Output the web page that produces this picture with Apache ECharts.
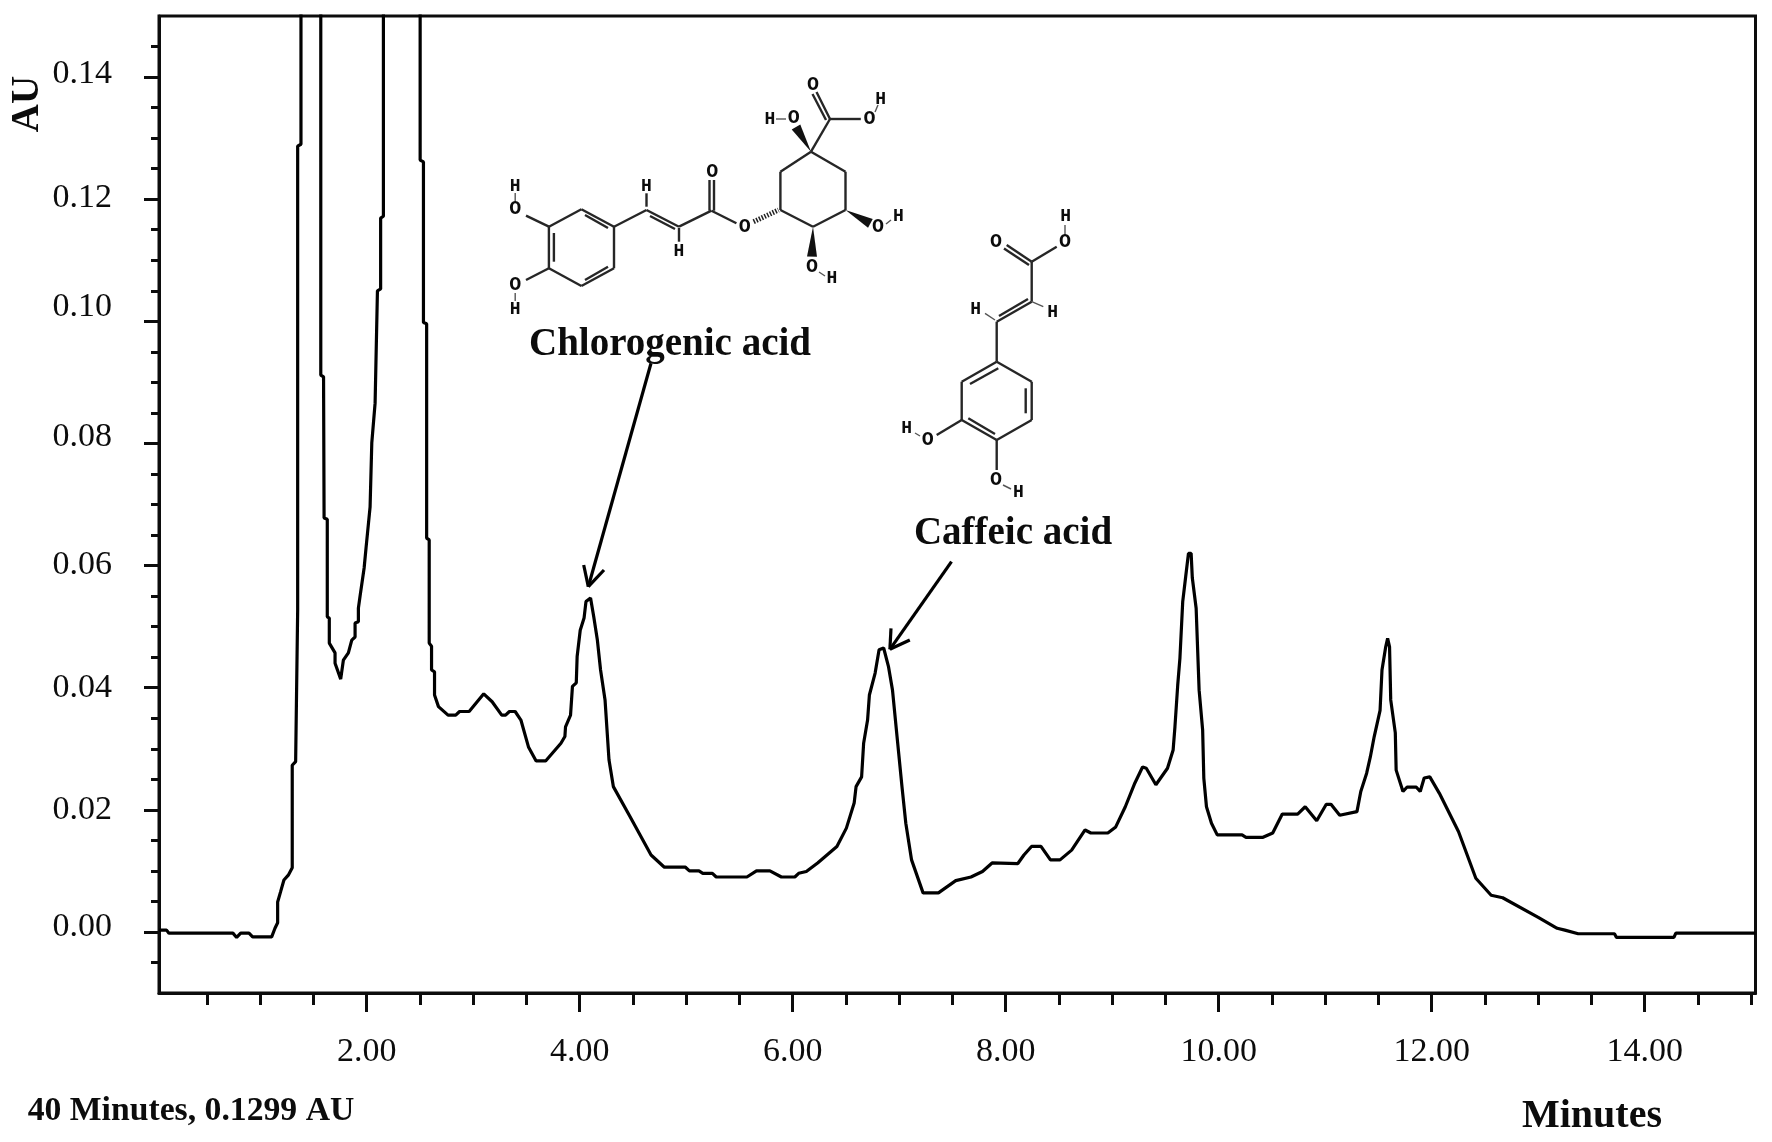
<!DOCTYPE html>
<html>
<head>
<meta charset="utf-8">
<title>Chromatogram</title>
<script src="https://cdn.jsdelivr.net/npm/echarts@6/dist/echarts.min.js"></script>
<style>
  html, body { margin: 0; padding: 0; background: #fff; }
  #chart { width: 1772px; height: 1142px; }
</style>
</head>
<body>
<div id="chart"></div>
<script>
// trace: retention time (min) and absorbance (AU)
// the two big peaks run off the top of the plot, so their tips are just set above the axis max
const times = [
  0.05, 0.121, 0.143, 0.744, 0.779, 0.817, 0.895, 0.929, 1.108, 1.139, 1.164, 1.164, 1.192, 1.223, 1.264, 1.301, 1.301, 1.333, 1.352, 1.352, 1.383, 1.383,
  1.569, 1.569, 1.595, 1.600, 1.630, 1.630, 1.649, 1.649, 1.703, 1.703, 1.756, 1.781, 1.828, 1.860, 1.891, 1.891, 1.922, 1.922, 1.938, 1.976, 1.994, 2.032, 2.048, 2.079, 2.101, 2.131, 2.131, 2.157, 2.157,
  2.502, 2.502, 2.533, 2.533, 2.563, 2.563, 2.587, 2.587, 2.609, 2.609, 2.637, 2.637, 2.674, 2.764, 2.836, 2.872, 2.962, 3.099, 3.178, 3.268, 3.304, 3.340, 3.394, 3.448, 3.519, 3.591, 3.680, 3.824, 3.861, 3.867, 3.914, 3.932, 3.968, 3.976,
  4.005, 4.041, 4.059, 4.102, 4.132, 4.166, 4.196, 4.238, 4.275, 4.316, 4.472, 4.670, 4.795, 4.993, 5.030, 5.120, 5.156, 5.246, 5.282, 5.570, 5.660, 5.786, 5.894, 6.020, 6.056, 6.128, 6.234, 6.415, 6.504, 6.577, 6.595, 6.647, 6.666, 6.703, 6.720, 6.774, 6.811, 6.854, 6.900, 6.937, 6.983,
  7.026, 7.062, 7.116, 7.224, 7.368, 7.531, 7.674, 7.782, 7.872, 8.114, 8.171, 8.242, 8.331, 8.420, 8.510, 8.619, 8.745, 8.799, 8.959, 9.033, 9.123, 9.213, 9.285, 9.320, 9.410, 9.519, 9.572, 9.589, 9.615, 9.636, 9.662, 9.690, 9.716, 9.741, 9.752, 9.788, 9.816, 9.849, 9.860, 9.885, 9.932, 9.986,
  10.219, 10.256, 10.416, 10.507, 10.597, 10.741, 10.812, 10.920, 11.010, 11.054, 11.136, 11.298, 11.334, 11.389, 11.424, 11.460, 11.515, 11.533, 11.568, 11.586, 11.604, 11.615, 11.658, 11.666, 11.730, 11.767, 11.856, 11.892, 11.929, 11.982,
  12.072, 12.252, 12.414, 12.558, 12.666, 13.000, 13.178, 13.250, 13.375, 13.716, 13.735, 14.274, 14.292, 15.04
]
const absorbance = [
  0.0003, 0.0003, -0.0002, -0.0002, -0.0009, -0.0002, -0.0002, -0.0008, -0.0008, 0.0006, 0.0015, 0.0049, 0.0066, 0.0085, 0.0093, 0.0105, 0.0273, 0.0279, 0.0527, 0.1287, 0.1290, 0.2,
  0.2, 0.0912, 0.0909, 0.0678, 0.0676, 0.0516, 0.0514, 0.0473, 0.0457, 0.0440, 0.0414, 0.0445, 0.0457, 0.0478, 0.0483, 0.0506, 0.0508, 0.0530, 0.0550, 0.0596, 0.0629, 0.0696, 0.0801, 0.0866, 0.1050, 0.1053, 0.1169, 0.1172, 0.2,
  0.2, 0.1264, 0.1261, 0.0998, 0.0996, 0.0645, 0.0642, 0.0473, 0.0468, 0.0429, 0.0426, 0.0388, 0.0369, 0.0355, 0.0355, 0.0361, 0.0361, 0.0390, 0.0377, 0.0355, 0.0355, 0.0361, 0.0361, 0.0347, 0.0303, 0.0280, 0.0280, 0.0309, 0.0320, 0.0336, 0.0355, 0.0402, 0.0408, 0.0451,
  0.0494, 0.0514, 0.0541, 0.0547, 0.0516, 0.0478, 0.0429, 0.0380, 0.0282, 0.0238, 0.0189, 0.0126, 0.0106, 0.0106, 0.0100, 0.0100, 0.0096, 0.0096, 0.0090, 0.0090, 0.0100, 0.0100, 0.0090, 0.0090, 0.0096, 0.0099, 0.0113, 0.0140, 0.0170, 0.0211, 0.0238, 0.0254, 0.0309, 0.0347, 0.0388, 0.0424, 0.0462, 0.0465, 0.0434, 0.0396, 0.0314,
  0.0238, 0.0178, 0.0118, 0.0064, 0.0064, 0.0084, 0.0090, 0.0099, 0.0113, 0.0112, 0.0126, 0.0140, 0.0140, 0.0118, 0.0118, 0.0134, 0.0167, 0.0162, 0.0162, 0.0172, 0.0205, 0.0244, 0.0270, 0.0268, 0.0241, 0.0268, 0.0298, 0.0336, 0.0404, 0.0449, 0.0541, 0.0582, 0.0620, 0.0620, 0.0580, 0.0530, 0.0396, 0.0331, 0.0252, 0.0205, 0.0178, 0.0159,
  0.0159, 0.0155, 0.0155, 0.0162, 0.0193, 0.0193, 0.0205, 0.0182, 0.0209, 0.0209, 0.0191, 0.0197, 0.0230, 0.0260, 0.0287, 0.0320, 0.0363, 0.0429, 0.0467, 0.0481, 0.0467, 0.0380, 0.0326, 0.0265, 0.0230, 0.0237, 0.0237, 0.0230, 0.0252, 0.0254,
  0.0227, 0.0164, 0.0088, 0.0060, 0.0056, 0.0024, 0.0006, 0.0003, -0.0003, -0.0003, -0.0009, -0.0009, -0.0002, -0.0002
]

const xMajorTicks = [2, 4, 6, 8, 10, 12, 14]
const xMinorTicks = [0.5, 1, 1.5, 2.5, 3, 3.5, 4.5, 5, 5.5, 6.5, 7, 7.5, 8.5, 9, 9.5, 10.5, 11, 11.5, 12.5, 13, 13.5, 14.5, 15]
const yMajorTicks = [0, 0.02, 0.04, 0.06, 0.08, 0.1, 0.12, 0.14]
const yMinorTicks = [-0.005, 0.005, 0.01, 0.015, 0.025, 0.03, 0.035, 0.045, 0.05, 0.055, 0.065, 0.07, 0.075, 0.085, 0.09, 0.095, 0.105, 0.11, 0.115, 0.125, 0.13, 0.135, 0.145]

const serif = '"Liberation Serif", "Times New Roman", serif'
const ink = '#0c0c0c'

// in the original the y labels sit a bit above some of their ticks
const yLabelLift = { '0.14': 3, '0.12': 1, '0.10': 14, '0.08': 6, '0.00': 5 }
const yLabelRich = {}
Object.values(yLabelLift).forEach((lift) => {
  yLabelRich[`lift${lift}`] = { padding: [0, 0, lift * 2, 0], fontFamily: serif, fontSize: 34, color: ink }
})

function yLabel(value) {
  const text = value.toFixed(2)
  const lift = yLabelLift[text]
  return lift ? `{lift${lift}|${text}}` : text
}

// --- annotations (page pixels, these are not chart data) ---
function line(x1, y1, x2, y2, width = 2.4, stroke = '#262626') {
  return { type: 'line', shape: { x1, y1, x2, y2 }, style: { stroke, lineWidth: width } }
}

function wedge(x1, y1, x2, y2, w = 5) {
  const len = Math.hypot(x2 - x1, y2 - y1)
  const nx = -(y2 - y1) / len * w
  const ny = (x2 - x1) / len * w
  return {
    type: 'polygon',
    shape: { points: [[x1, y1], [x2 + nx, y2 + ny], [x2 - nx, y2 - ny]] },
    style: { fill: '#111' },
  }
}

function label(text, x, y, font, rotation = 0) {
  return {
    type: 'text',
    x,
    y,
    rotation,
    style: { text, font, fill: ink, align: 'center', verticalAlign: 'middle' },
  }
}

function arrow(x1, y1, x2, y2, barbA, barbB) {
  return [
    line(x1, y1, x2, y2, 3.2, '#000'),
    line(x2, y2, barbA[0], barbA[1], 3.2, '#000'),
    line(x2, y2, barbB[0], barbB[1], 3.2, '#000'),
  ]
}

const atomFont = 'bold 20px "Liberation Mono", monospace'
const hFont = 'bold 18px "Liberation Mono", monospace'

const chlorogenicBonds = [
  // aromatic ring
  [581.4, 209.3, 614, 226.7], [614, 226.7, 614, 268.3], [614, 268.3, 581.4, 286],
  [581.4, 286, 548.9, 268.3], [548.9, 268.3, 548.9, 226.7], [548.9, 226.7, 581.4, 209.3],
  [585, 215, 608, 228], [553.9, 233, 553.9, 261.7], [585, 280, 608, 266.7],
  [548.9, 226.7, 526, 215.7], [548.9, 268.3, 526, 280],
  // side chain
  [614, 226.7, 646.5, 210], [646.5, 210, 679, 226.7], [650, 216, 675, 229],
  [646.5, 206.7, 646.5, 193.3], [679, 228, 679, 241.7], [679, 226.7, 711.5, 210.7],
  [709.5, 210.7, 709.5, 180], [714, 210.7, 714, 180], [711.5, 210.7, 736.4, 223.3],
  // quinic ring
  [811, 151.7, 845.5, 171.7], [845.5, 171.7, 845.5, 210], [845.5, 210, 813, 226.7],
  [813, 226.7, 780.4, 210], [780.4, 210, 780.4, 171.7], [780.4, 171.7, 811, 151.7],
  // carboxyl
  [811, 151.7, 830, 119], [830, 119, 816.5, 92], [826, 120, 812.5, 94], [830, 119, 860.8, 119],
]
const chlorogenicWedges = [
  [811, 151.7, 796, 127], [845.5, 210, 870.4, 223.3], [813, 226.7, 812, 256.7],
]
const chlorogenicThin = [
  [515.2, 203, 515.2, 193], [515.2, 293, 515.2, 301], [776, 119, 786, 119], [875, 112, 878, 105],
  [886, 224, 891, 220], [819, 272, 825, 276],
]
const chlorogenicAtoms = [
  ['O', 515.2, 209], ['O', 515.2, 285], ['O', 712.3, 171.7], ['O', 744.8, 227.3], ['O', 793.8, 118.3],
  ['O', 813, 85], ['O', 869.6, 119], ['O', 878, 226.7], ['O', 812, 266.7],
]
const chlorogenicHydrogens = [
  [515.2, 186], [515.2, 309.3], [646.5, 186], [679, 251.7], [770, 119], [880.7, 99], [898.3, 216.7], [832, 278.3],
]

const caffeicBonds = [
  [996.7, 361.7, 1031.7, 381.7], [1031.7, 381.7, 1031.7, 420], [1031.7, 420, 996.7, 440],
  [996.7, 440, 961.7, 420], [961.7, 420, 961.7, 381.7], [961.7, 381.7, 996.7, 361.7],
  [998.3, 368.3, 970, 384], [1025.7, 388.3, 1025.7, 413.3], [995, 434, 968.3, 418.3],
  [996.7, 361.7, 996.7, 321.7], [996.7, 321.7, 1031.7, 301.7], [999, 316, 1028, 299],
  [1031.7, 301.7, 1031.7, 261.7], [1031.7, 261.7, 1006.7, 245], [1029, 265, 1004, 248.5],
  [1031.7, 261.7, 1056.7, 246.7], [961.7, 420, 936.7, 435], [996.7, 440, 996.7, 470],
]
const caffeicThin = [
  [995, 320, 985, 313.3], [1031.7, 301.7, 1043.3, 306.7], [1065, 235, 1065, 225], [915, 433, 920, 436], [1003, 485, 1011, 489],
]
const caffeicAtoms = [['O', 996, 242.3], ['O', 1065, 241.7], ['O', 927.7, 440], ['O', 996, 480]]
const caffeicHydrogens = [[975.7, 309], [1052.7, 312.7], [1065.7, 216.7], [906.7, 428.3], [1018.3, 492.7]]

const annotations = [
  label('AU', 28, 104, `bold 39px ${serif}`, Math.PI / 2),
  label('Chlorogenic acid', 670, 345, `bold 39px ${serif}`),
  label('Caffeic acid', 1013, 534, `bold 39px ${serif}`),
  label('40 Minutes, 0.1299 AU', 191, 1111, `bold 33.7px ${serif}`),
  label('Minutes', 1592, 1117, `bold 40px ${serif}`),
  ...arrow(651, 363.3, 588.3, 586.7, [583.7, 565], [604, 570]),
  ...arrow(951.5, 561.7, 889.9, 649.3, [891, 628.3], [909.8, 640]),
  ...chlorogenicBonds.concat(caffeicBonds).map(b => line(...b)),
  ...chlorogenicThin.concat(caffeicThin).map(b => line(...b, 1.4, '#555')),
  ...chlorogenicWedges.map(w => wedge(...w)),
  // hashed bond of the ester oxygen
  {
    type: 'line',
    shape: { x1: 753.6, y1: 221.7, x2: 778.5, y2: 210 },
    style: { stroke: '#222', lineWidth: 5, lineDash: [1.5, 1.5] },
  },
  ...chlorogenicAtoms.concat(caffeicAtoms).map(a => label(a[0], a[1], a[2], atomFont)),
  ...chlorogenicHydrogens.concat(caffeicHydrogens).map(h => label('H', h[0], h[1], hFont)),
]

function tickStyle(values, length) {
  return { show: true, length, customValues: values, lineStyle: { color: ink, width: 3 } }
}

function xTickAxis(values, length) {
  return {
    type: 'value',
    min: 0.05,
    max: 15.04,
    position: 'bottom',
    splitLine: { show: false },
    axisLine: { show: false, onZero: false },
    axisTick: tickStyle(values, length),
    axisLabel: { show: false },
  }
}

function yTickAxis(values, length) {
  return {
    type: 'value',
    min: -0.01,
    max: 0.15,
    position: 'left',
    splitLine: { show: false },
    axisLine: { show: false, onZero: false },
    axisTick: tickStyle(values, length),
    axisLabel: { show: false },
  }
}

const chart = echarts.init(document.getElementById('chart'))
chart.setOption({
  animation: false,
  backgroundColor: '#fff',
  grid: {
    show: true,
    left: 159,
    right: 16.5,
    top: 16,
    bottom: 149,
    borderColor: ink,
    borderWidth: 3,
  },
  xAxis: [
    {
      type: 'value',
      min: 0.05,
      max: 15.04,
      position: 'bottom',
      splitLine: { show: false },
      axisLine: { show: true, onZero: false, lineStyle: { color: ink, width: 3 } },
      axisTick: { show: false },
      axisLabel: {
        customValues: xMajorTicks,
        formatter: value => value.toFixed(2),
        margin: 42,
        fontFamily: serif,
        fontSize: 34,
        color: ink,
      },
    },
    xTickAxis(xMajorTicks, 19),
    xTickAxis(xMinorTicks, 12),
  ],
  yAxis: [
    {
      type: 'value',
      min: -0.01,
      max: 0.15,
      position: 'left',
      splitLine: { show: false },
      axisLine: { show: true, onZero: false, lineStyle: { color: ink, width: 3 } },
      axisTick: tickStyle(yMajorTicks, 15),
      axisLabel: {
        customValues: yMajorTicks,
        formatter: yLabel,
        margin: 47,
        fontFamily: serif,
        fontSize: 34,
        color: ink,
        rich: yLabelRich,
      },
    },
    yTickAxis(yMinorTicks, 8),
  ],
  series: [
    {
      type: 'line',
      xAxisIndex: 0,
      yAxisIndex: 0,
      data: times.map((t, i) => [t, absorbance[i]]),
      symbol: 'none',
      smooth: false,
      clip: true,
      lineStyle: { color: '#000', width: 3.2 },
      silent: true,
    },
  ],
  graphic: annotations,
})
</script>
</body>
</html>
